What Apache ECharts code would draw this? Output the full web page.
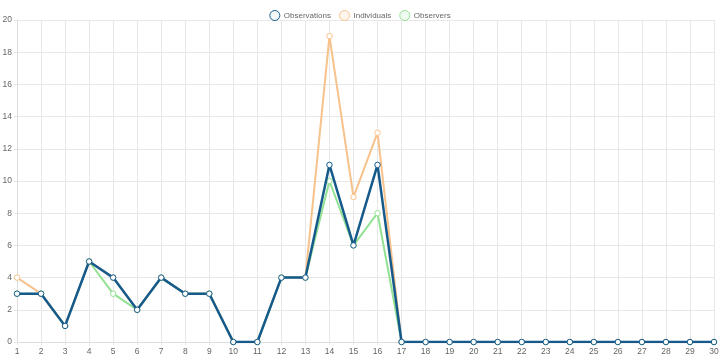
<!DOCTYPE html>
<html><head><meta charset="utf-8">
<script src="https://cdn.jsdelivr.net/npm/echarts@6/dist/echarts.min.js"></script>
<style>html,body{margin:0;padding:0;background:#fff}#c{width:720px;height:360px}</style>
</head><body><div id="c"></div>
<script>
const categories = ['1','2','3','4','5','6','7','8','9','10','11','12','13','14','15','16','17','18','19','20','21','22','23','24','25','26','27','28','29','30'];
const observations = [3,3,1,5,4,2,4,3,3,0,0,4,4,11,6,11,0,0,0,0,0,0,0,0,0,0,0,0,0,0];
const individuals  = [4,3,1,5,4,2,4,3,3,0,0,4,4,19,9,13,0,0,0,0,0,0,0,0,0,0,0,0,0,0];
const observers    = [3,3,1,5,3,2,4,3,3,0,0,4,4,10,6,8,0,0,0,0,0,0,0,0,0,0,0,0,0,0];

const cBlue = '#165a8b', cOrange = '#f7c28b', cGreen = '#93e193';
const font = '"Liberation Sans", Arial, sans-serif';
function mk(name, data, color, width, z) {
  return {
    name, type: 'line', data, z,
    symbol: 'circle', symbolSize: 5.5, showSymbol: true,
    lineStyle: { color, width },
    itemStyle: { color: '#fff', borderColor: color, borderWidth: 1 },
    emphasis: { disabled: true },
    animation: false
  };
}
const chart = echarts.init(document.getElementById('c'));
chart.setOption({
  animation: false,
  legend: {
    top: 5, left: 'center', itemGap: 8, itemWidth: 10, itemHeight: 10,
    icon: 'circle',
    textStyle: { fontFamily: font, fontSize: 8, color: '#666', padding: [0,0,0,-1] },
    data: [
      { name: 'Observations', itemStyle: { color: 'rgba(22,90,139,0.04)', borderColor: cBlue, borderWidth: 1 } },
      { name: 'Individuals', itemStyle: { color: 'rgba(247,194,139,0.15)', borderColor: cOrange, borderWidth: 1 } },
      { name: 'Observers', itemStyle: { color: 'rgba(147,225,147,0.12)', borderColor: cGreen, borderWidth: 1 } }
    ]
  },
  grid: { left: 17, right: 6, top: 20, bottom: 18, containLabel: false, outerBoundsMode: 'none' },
  xAxis: {
    type: 'category', data: categories, boundaryGap: false,
    axisLine: { show: true, lineStyle: { color: '#ddd' } },
    axisTick: { show: true, length: 3, lineStyle: { color: '#e5e5e5' } },
    axisLabel: { color: '#666', fontFamily: font, fontSize: 8.5, margin: 5 },
    splitLine: { show: true, lineStyle: { color: '#e8e8e8' } }
  },
  yAxis: {
    type: 'value', min: 0, max: 20, interval: 2,
    axisLine: { show: true, lineStyle: { color: '#ddd' } },
    axisTick: { show: true, length: 3, lineStyle: { color: '#e5e5e5' } },
    axisLabel: { color: '#666', fontFamily: font, fontSize: 8.5, margin: 5 },
    splitLine: { show: true, lineStyle: { color: '#e8e8e8' } }
  },
  series: [
    mk('Observations', observations, cBlue, 2.5, 5),
    mk('Individuals', individuals, cOrange, 2, 3),
    mk('Observers', observers, cGreen, 2, 4)
  ]
});
</script></body></html>
